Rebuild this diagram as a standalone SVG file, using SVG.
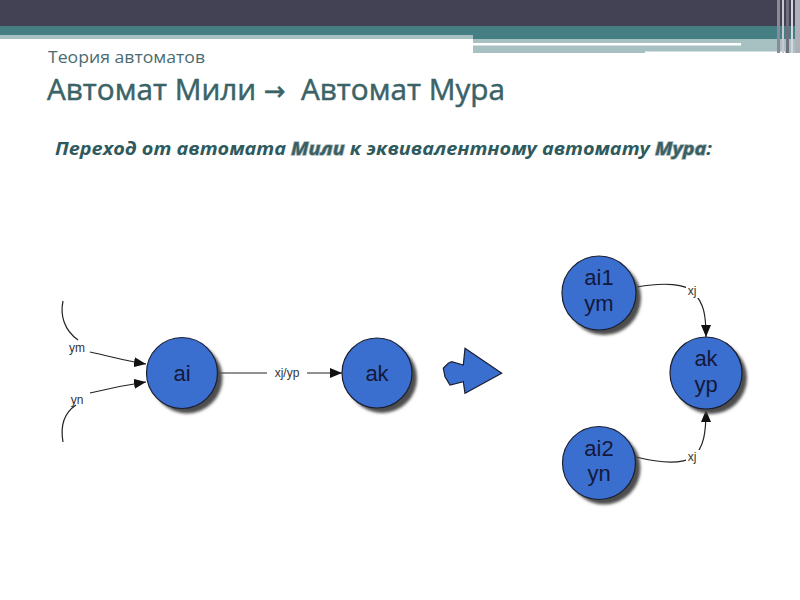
<svg xmlns="http://www.w3.org/2000/svg" width="800" height="600" viewBox="0 0 800 600">
<defs>
<style>
.node{fill:#3a6fcf;stroke:#1b1f33;stroke-width:1.2}
.shadow{fill:#4d4d4d;filter:url(#blur)}
.nt{font-family:"Liberation Sans",Arial,sans-serif;font-size:22px;fill:#14183a;text-anchor:middle}
.el{font-family:"Liberation Sans",Arial,sans-serif;font-size:12px;fill:#333;text-anchor:middle}
.edge{fill:none;stroke:#222;stroke-width:1.2}
.lbg{fill:#fff}
.hl{fill:#3a5f62;stroke:#aab8ba;stroke-width:1.5;paint-order:stroke}
</style>
<filter id="blur" x="-20%" y="-20%" width="140%" height="140%"><feGaussianBlur stdDeviation="1.5"/></filter>
<marker id="arr" markerWidth="12" markerHeight="10" refX="12" refY="5" orient="auto" markerUnits="userSpaceOnUse">
<path d="M0,0 L12,5 L0,10 Z" fill="#111"/>
</marker>
</defs>
<rect width="800" height="600" fill="#fff"/>
<g id="header">
<rect x="0" y="0" width="800" height="26" fill="#424254"/>
<rect x="0" y="26" width="800" height="9" fill="#467f83"/>
<rect x="0" y="35" width="473" height="4" fill="#a7c1c3"/>
<rect x="473" y="35" width="327" height="4" fill="#467f83"/>
<rect x="473" y="39" width="327" height="14" fill="#a7c1c3"/>
<rect x="473" y="43" width="268" height="2.5" fill="#fff"/>
<rect x="645" y="51.5" width="140" height="3" fill="#fff"/>
<rect x="777" y="0" width="3" height="53" fill="#8a8a98"/>
<rect x="782" y="0" width="2" height="53" fill="#c8c8d0"/>
<rect x="786" y="0" width="3" height="53" fill="#6f6f7e"/>
<rect x="791" y="0" width="2" height="53" fill="#d6d6dc"/>
<rect x="795" y="0" width="5" height="53" fill="#b0b0bb"/>
</g>
<g id="titles">
<text x="48" y="63" font-family="'Open Sans','Noto Sans',sans-serif" font-size="16" fill="#4a6c70" textLength="157" lengthAdjust="spacingAndGlyphs">Теория автоматов</text>
<text x="47" y="100" font-family="'Open Sans','Noto Sans',sans-serif" font-size="30" font-weight="500" fill="#3a6367" stroke="#3a6367" stroke-width="0.5" textLength="458" lengthAdjust="spacingAndGlyphs">Автомат Мили <tspan font-family="'DejaVu Sans',sans-serif" font-size="26">→</tspan>&#160; Автомат Мура</text>
<text x="55" y="155" font-family="'Open Sans','Noto Sans',sans-serif" font-size="18.5" font-weight="bold" font-style="italic" fill="#2e5a5e" textLength="657" lengthAdjust="spacingAndGlyphs">Переход от автомата <tspan class="hl">Мили</tspan> к эквивалентному автомату <tspan class="hl">Мура</tspan>:</text>
</g>
<g id="connectors">
<path class="edge" d="M63,301 C60,315 64,330 78,340"/>
<path class="edge" d="M90,352 C110,356 125,361 146,364" marker-end="url(#arr)"/>
<text class="el" x="77" y="352">ym</text>
<path class="edge" d="M90,393 C110,388 125,385 146,382" marker-end="url(#arr)"/>
<path class="edge" d="M76,405 C64,413 60,425 63,442"/>
<text class="el" x="77" y="404">yn</text>
<path class="edge" d="M218,373 L342,373" marker-end="url(#arr)"/>
<rect class="lbg" x="267" y="366" width="40" height="13"/>
<text class="el" x="287" y="377">xj/yp</text>
<path class="edge" d="M637,287 C665,282 686,284 693,292 C704,303 706,315 706,337" marker-end="url(#arr)"/>
<rect class="lbg" x="686" y="285" width="14" height="13"/>
<text class="el" x="692" y="295">xj</text>
<path class="edge" d="M636,457 C660,463 682,464 693,457 C704,448 706,432 706,410" marker-end="url(#arr)"/>
<rect class="lbg" x="686" y="450" width="14" height="13"/>
<text class="el" x="692" y="461">xj</text>
</g>
<g id="node-ai">
<circle class="shadow" cx="187" cy="378" r="35.5"/>
<circle class="node" cx="182" cy="373" r="35.5"/>
<text class="nt" x="182" y="381">ai</text>
</g>
<g id="node-ak">
<circle class="shadow" cx="382" cy="378" r="35"/>
<circle class="node" cx="377" cy="373" r="35"/>
<text class="nt" x="377" y="381">ak</text>
</g>
<g id="big-arrow">
<polygon class="node" points="465,348.3 501.7,373.3 465,393.3 463.3,381.7 450,385 445,376.7 443.3,368.3 448.3,363.3 451.7,361.7 463.3,365"/>
</g>
<g id="node-ai1">
<circle class="shadow" cx="604" cy="298" r="37"/>
<circle class="node" cx="599" cy="293" r="37"/>
<text class="nt" x="599" y="285">ai1</text>
<text class="nt" x="599" y="311">ym</text>
</g>
<g id="node-ai2">
<circle class="shadow" cx="604" cy="468" r="36.5"/>
<circle class="node" cx="599" cy="463" r="36.5"/>
<text class="nt" x="599" y="456">ai2</text>
<text class="nt" x="599" y="481">yn</text>
</g>
<g id="node-akyp">
<circle class="shadow" cx="711" cy="378" r="36"/>
<circle class="node" cx="706" cy="373" r="36"/>
<text class="nt" x="706" y="366">ak</text>
<text class="nt" x="706" y="392">yp</text>
</g>
</svg>
